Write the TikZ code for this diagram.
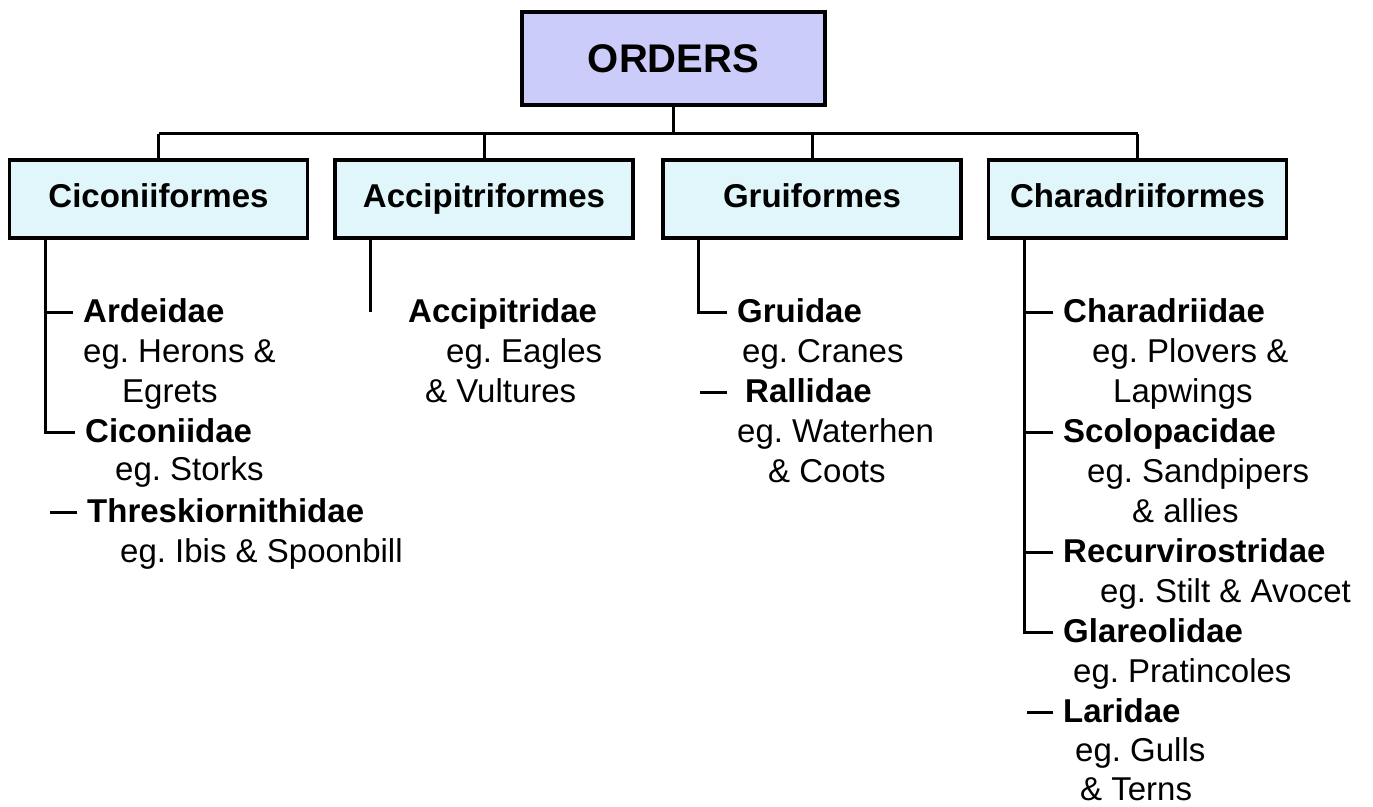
\documentclass[tikz,border=0pt]{standalone}
\usepackage{fontspec}
\setmainfont{Liberation Sans}
\usepackage{tikz}
\definecolor{ordersfill}{RGB}{204, 204, 250}
\definecolor{orderfill}{RGB}{224, 246, 250}
\usetikzlibrary{calc, positioning}
\frenchspacing

\begin{document}
\begin{tikzpicture}[x=1pt, y=-1pt,
		link/.style={line width=3pt},
		orderbox/.style={draw, line width=3.5pt, fill=orderfill, minimum width=298pt, minimum height=78pt,
			text height=24pt, text depth=7pt, font=\bfseries\fontsize{33}{40}\selectfont},
		family/.style={anchor=base west, inner xsep=10pt, inner ysep=0pt, text height=26pt, text depth=6pt,
			font=\bfseries\fontsize{33}{40}\selectfont},
		example/.style={anchor=base west, inner sep=0pt, font=\fontsize{33}{40}\selectfont}]
			\useasboundingbox (0,0) rectangle (1373,806);
			\pgfmathsetmacro{\boxy}{199}
			\pgfmathsetmacro{\trunk}{37.5}
			% Top
			\node[draw, line width=3.5pt, fill=ordersfill, minimum width=303pt, minimum height=93pt,
				font=\bfseries\fontsize{40}{48}\selectfont] (orders) at (673.5,58.5) {ORDERS};
			% Orders
			\node[orderbox] (cic) at (158.5,\boxy) {Ciconiiformes};
			\node[orderbox] (acc) at (484,\boxy) {Accipitriformes};
			\node[orderbox] (gru) at (812,\boxy) {Gruiformes};
			\node[orderbox] (cha) at (1137.5,\boxy) {Charadriiformes};
			\draw[link] (orders.south) -- ++(0,27) coordinate (bus);
			\draw[link] (bus -| cic.north) -- (bus -| cha.north);
			\foreach \o in {cic,acc,gru,cha}
			{
				\draw[link] (\o.north) -- (\o.north |- bus);
				\coordinate (\o-trunk) at ([xshift=\trunk]\o.south west);
			}
			
			% Ciconiiformes
			\node[family] (ard) at (73,322) {Ardeidae};
			\node[example] (ard-eg) at (83,362) {eg. Herons \&};
			\node[example] (ard-eg2) at (122,402) {Egrets};
			\node[family] (cicd) at (75,442) {Ciconiidae};
			\node[example] (cicd-eg) at (115,480) {eg. Storks};
			\node[family] (thr) at (77,522) {Threskiornithidae};
			\node[example] (thr-eg) at (120,562) {eg. Ibis \& Spoonbill};
			\draw[link] (cic-trunk) |- (cicd.west);
			\draw[link] (ard.west -| cic-trunk) -- (ard.west);
			\draw[link] (thr.west) -- ++(-27,0);
			
			% Accipitriformes
			\node[family] (accd) at (398,322) {Accipitridae};
			\node[example] (accd-eg) at (446,362) {eg. Eagles};
			\node[example] (accd-eg2) at (425,402) {\& Vultures};
			\draw[link] (acc-trunk) -- (acc-trunk |- accd.west);
			
			% Gruiformes
			\node[family] (grud) at (727,322) {Gruidae};
			\node[example] (grud-eg) at (742,362) {eg. Cranes};
			\node[family] (ral) at (735,402) {Rallidae};
			\node[example] (ral-eg) at (737,442) {eg. Waterhen};
			\node[example] (ral-eg2) at (768,482) {\& Coots};
			\draw[link] (gru-trunk) |- (grud.west);
			\draw[link] ([xshift=-8pt]ral.west) -- ++(-27,0);
			
			% Charadriiformes
			\node[family] (chad) at (1053,322) {Charadriidae};
			\node[example] (chad-eg) at (1092,362) {eg. Plovers \&};
			\node[example] (chad-eg2) at (1113,402) {Lapwings};
			\node[family] (scol) at (1053,442) {Scolopacidae};
			\node[example] (scol-eg) at (1087,482) {eg. Sandpipers};
			\node[example] (scol-eg2) at (1132,522) {\& allies};
			\node[family] (recu) at (1053,562) {Recurvirostridae};
			\node[example] (recu-eg) at (1100,602) {eg. Stilt \& Avocet};
			\node[family] (glar) at (1053,642) {Glareolidae};
			\node[example] (glar-eg) at (1073,682) {eg. Pratincoles};
			\node[family] (lari) at (1053,722) {Laridae};
			\node[example] (lari-eg) at (1075,761) {eg. Gulls};
			\node[example] (lari-eg2) at (1080,800) {\& Terns};
			\draw[link] (cha-trunk) |- (glar.west);
			\foreach \f in {chad,scol,recu}
				\draw[link] (\f.west -| cha-trunk) -- (\f.west);
			\draw[link] (lari.west) -- ++(-26,0);
			
		\end{tikzpicture}
\end{document}
